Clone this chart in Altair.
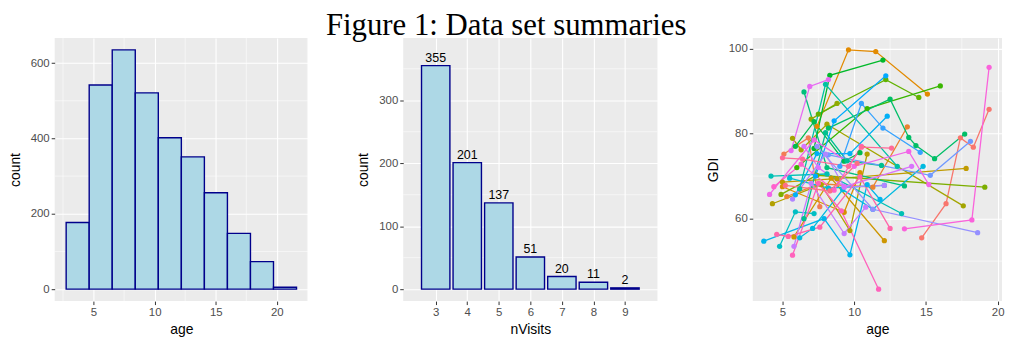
import math
import altair as alt
import pandas as pd

# ---------------- data ----------------
# Panel 1: histogram of age (bin edges and counts)
age_bin_start = [2.76, 4.645, 6.53, 8.415, 10.30, 12.185, 14.07, 15.955, 17.84, 19.725]
age_bin_end = [4.645, 6.53, 8.415, 10.30, 12.185, 14.07, 15.955, 17.84, 19.725, 21.61]
age_counts = [177, 542, 635, 521, 402, 351, 256, 148, 73, 5]

# Panel 2: number of visits per subject
nvisits = [3, 4, 5, 6, 7, 8, 9]
nvisit_counts = [355, 201, 137, 51, 20, 11, 2]

# Panel 3: GDI trajectories for a sample of subjects
subject_ages = [
    [14.7, 16.4, 17.4, 18.3, 19.4],
    [5.1, 6.8, 7.6],
    [5.3, 7.6, 11.3, 13.7],
    [7.4, 9.6, 11.5, 15.1],
    [5.0, 9.3, 10.4],
    [5.8, 8.4, 12.1],
    [5.0, 8.8, 17.8],
    [4.3, 7.7, 9.7, 10.9],
    [5.7, 6.3, 8.1, 17.6],
    [7.0, 8.8],
    [4.9, 7.4, 19.1],
    [7.5, 12.2, 14.5],
    [6.0, 10.9, 16.0],
    [7.2, 8.3, 12.0],
    [5.9, 7.2, 9.3, 10.4],
    [8.2, 12.5, 13.8, 14.3, 15.6, 17.7],
    [6.5, 8.1, 13.5],
    [6.5, 8.0, 9.5, 11.9],
    [6.2, 8.0, 13.0],
    [4.2, 8.1, 13.3],
    [4.8, 5.9, 7.2],
    [5.5, 8.2, 12.1],
    [6.2, 7.1, 9.2, 11.3, 14.8],
    [3.7, 7.9, 9.7, 10.9, 11.8],
    [5.9, 7.4, 9.7, 12.3],
    [7.3, 8.6, 12.2],
    [9.0, 10.5, 12.0, 14.6],
    [8.2, 15.3, 18.1],
    [7.4, 11.3, 18.6],
    [5.7, 8.0, 9.3, 12.1],
    [5.8, 7.0, 9.3, 10.8],
    [6.5, 7.5, 9.3, 14.0],
    [5.6, 6.9, 8.2],
    [4.1, 7.2, 10.0, 13.8, 15.2],
    [13.5, 18.2, 19.4],
    [4.4, 6.3, 8.6, 10.5],
    [5.7, 7.5, 9.1, 11.7],
    [4.6, 5.4, 7.6, 10.4, 12.5],
    [5.0, 6.4, 9.6, 10.5, 12.6],
    [5.2, 8.3, 10.2],
]
subject_gdi = [
    [55.5, 63.5, 79.0, 76.8, 85.7],
    [75.2, 79.0, 62.8],
    [65.2, 68.2, 67.4, 81.6],
    [81.7, 99.7, 99.3, 89.3],
    [67.5, 61.5, 70.8],
    [55.7, 69.5, 54.8],
    [68.6, 69.4, 71.8],
    [63.5, 68.0, 57.2, 75.2],
    [78.9, 76.2, 82.2, 63.0],
    [83.4, 87.1],
    [65.7, 70.2, 67.4],
    [84.6, 92.7, 88.5],
    [72.0, 85.9, 91.2],
    [76.5, 93.7, 97.3],
    [77.0, 82.8, 73.5, 75.5],
    [81.3, 88.1, 79.1, 77.2, 74.1, 79.9],
    [89.8, 72.0, 67.7],
    [60.0, 80.2, 73.6, 72.5],
    [67.0, 91.6, 72.3],
    [70.0, 70.5, 61.2],
    [53.5, 61.6, 61.2],
    [69.5, 67.2, 67.8],
    [55.5, 57.7, 66.8, 62.2, 72.3],
    [54.7, 60.0, 51.5, 68.0, 64.5],
    [65.6, 75.3, 75.3, 84.1],
    [70.0, 83.0, 93.6],
    [72.3, 87.1, 81.3, 75.6],
    [75.0, 70.2, 78.2],
    [77.0, 62.2, 56.7],
    [64.6, 75.2, 67.4, 67.8],
    [53.5, 68.3, 56.5, 62.7],
    [77.0, 72.0, 67.5, 72.3],
    [76.0, 91.1, 92.7],
    [65.7, 78.5, 72.3, 75.8, 68.0],
    [57.6, 59.7, 95.6],
    [67.5, 72.8, 66.7, 77.0],
    [51.4, 68.3, 61.8, 43.4],
    [56.3, 55.8, 58.0, 69.8, 57.7],
    [74.3, 74.0, 72.3, 76.8, 76.6],
    [67.8, 66.5, 73.0],
]

# ---------------- helpers ----------------
def hue_pal(n, c=100.0, l=65.0):
    """ggplot2-like hue palette (HCL, polar LUV) -> hex."""
    Xn, Yn, Zn = 95.047, 100.0, 108.883
    un = 4 * Xn / (Xn + 15 * Yn + 3 * Zn)
    vn = 9 * Yn / (Xn + 15 * Yn + 3 * Zn)
    out = []
    for i in range(n):
        h = math.radians(15 + 360.0 * i / n)
        u, v = c * math.cos(h), c * math.sin(h)
        Y = Yn * ((l + 16) / 116) ** 3
        up = u / (13 * l) + un
        vp = v / (13 * l) + vn
        X = Y * 9 * up / (4 * vp)
        Z = Y * (12 - 3 * up - 20 * vp) / (4 * vp)
        X, Y2, Z = X / 100, Y / 100, Z / 100
        r = 3.2404542 * X - 1.5371385 * Y2 - 0.4985314 * Z
        g = -0.9692660 * X + 1.8760108 * Y2 + 0.0415560 * Z
        b = 0.0556434 * X - 0.2040259 * Y2 + 1.0572252 * Z
        rgb = []
        for ch in (r, g, b):
            ch = 12.92 * ch if ch <= 0.0031308 else 1.055 * ch ** (1 / 2.4) - 0.055
            rgb.append(int(round(min(1, max(0, ch)) * 255)))
        out.append("#%02X%02X%02X" % tuple(rgb))
    return out


FONT = "Liberation Sans"
FILL = "#ADD8E6"
EDGE = "#00008B"
H = 265


def axis(values, title, pad):
    return alt.Axis(values=values, title=title, grid=True, gridColor="white",
                    gridWidth=1.1, titlePadding=pad)


def minor_rules(vals, channel, scale, ax):
    df = pd.DataFrame({"m": vals})
    if channel == "x":
        enc = {"x": alt.X("m:Q", scale=scale, axis=ax)}
    else:
        enc = {"y": alt.Y("m:Q", scale=scale, axis=ax)}
    return alt.Chart(df).mark_rule(color="white", strokeWidth=0.55).encode(**enc)


# ---------------- panel 1 ----------------
df1 = pd.DataFrame({"lo": age_bin_start, "hi": age_bin_end, "count": age_counts})
x1 = alt.Scale(domain=[1.82, 22.54], nice=False, zero=False)
y1 = alt.Scale(domain=[-31.75, 666.75], nice=False, zero=False)
ax1x = axis([5, 10, 15, 20], "age", 5)
ax1y = axis([0, 200, 400, 600], "count", 8)
bars1 = alt.Chart(df1).mark_bar(fill=FILL, stroke=EDGE, strokeWidth=1.4).encode(
    x=alt.X("lo:Q", scale=x1, axis=ax1x),
    x2="hi:Q",
    y=alt.Y("count:Q", scale=y1, axis=ax1y),
    y2=alt.datum(0),
)
p1 = alt.layer(
    minor_rules([2.5, 7.5, 12.5, 17.5, 22.5], "x", x1, ax1x),
    minor_rules([100, 300, 500], "y", y1, ax1y),
    bars1,
).properties(width=255, height=H)

# ---------------- panel 2 ----------------
df2 = pd.DataFrame({"n": nvisits, "count": nvisit_counts})
x2 = alt.Scale(domain=[1.97, 10.03], nice=False, zero=False)
y2 = alt.Scale(domain=[-19, 399], nice=False, zero=False)
ax2x = axis(nvisits, "nVisits", 5)
ax2y = axis([0, 100, 200, 300], "count", 8)
base2 = alt.Chart(df2).transform_calculate(lo="datum.n - 0.45", hi="datum.n + 0.45")
bars2 = base2.mark_bar(fill=FILL, stroke=EDGE, strokeWidth=1.4).encode(
    x=alt.X("lo:Q", scale=x2, axis=ax2x),
    x2="hi:Q",
    y=alt.Y("count:Q", scale=y2, axis=ax2y),
    y2=alt.datum(0),
)
text2 = alt.Chart(df2).mark_text(baseline="alphabetic", dy=-4, fontSize=12.5,
                                  font=FONT, color="black").encode(
    x=alt.X("n:Q", scale=x2, axis=ax2x),
    y=alt.Y("count:Q", scale=y2, axis=ax2y),
    text="count:Q",
)
p2 = alt.layer(
    minor_rules([50, 150, 250, 350], "y", y2, ax2y),
    bars2,
    text2,
).properties(width=256, height=H)

# ---------------- panel 3 ----------------
rows = []
ids = []
for i, (ages, gdis) in enumerate(zip(subject_ages, subject_gdi)):
    sid = "s%02d" % i
    ids.append(sid)
    for a, g in zip(ages, gdis):
        rows.append({"id": sid, "age": a, "GDI": g})
df3 = pd.DataFrame(rows)
x3 = alt.Scale(domain=[2.93, 20.3], nice=False, zero=False)
y3 = alt.Scale(domain=[40.6, 102.5], nice=False, zero=False)
ax3x = axis([5, 10, 15, 20], "age", 5)
ax3y = axis([60, 80, 100], "GDI", 8)
col = alt.Color("id:N", scale=alt.Scale(domain=ids, range=hue_pal(len(ids))), legend=None)
lines3 = alt.Chart(df3).mark_line(strokeWidth=1.3).encode(
    x=alt.X("age:Q", scale=x3, axis=ax3x),
    y=alt.Y("GDI:Q", scale=y3, axis=ax3y),
    color=col,
    detail="id:N",
)
pts3 = alt.Chart(df3).mark_circle(size=28, opacity=1).encode(
    x=alt.X("age:Q", scale=x3, axis=ax3x),
    y=alt.Y("GDI:Q", scale=y3, axis=ax3y),
    color=col,
)
p3 = alt.layer(
    minor_rules([7.5, 12.5, 17.5], "x", x3, ax3x),
    minor_rules([50, 70, 90], "y", y3, ax3y),
    lines3,
    pts3,
).properties(width=251, height=H)

chart = (
    alt.hconcat(p1, p2, p3, spacing=48)
    .properties(
        padding=0,
        title=alt.TitleParams(
            "Figure 1: Data set summaries", font="Liberation Serif", fontSize=31,
            fontWeight="normal", color="black", anchor="middle", offset=-7, dy=-3,
        ),
    )
    .configure_view(fill="#EBEBEB", stroke=None)
    .configure_axis(
        domain=False, tickColor="#333333", tickSize=3.5, tickWidth=1,
        labelColor="#4D4D4D", labelFont=FONT, labelFontSize=11.5, labelPadding=2,
        titleFont=FONT, titleFontSize=14, titleFontWeight="normal", titleColor="black",
    )
)

chart.save("out.html", embed_options={"renderer": "svg", "actions": False})
